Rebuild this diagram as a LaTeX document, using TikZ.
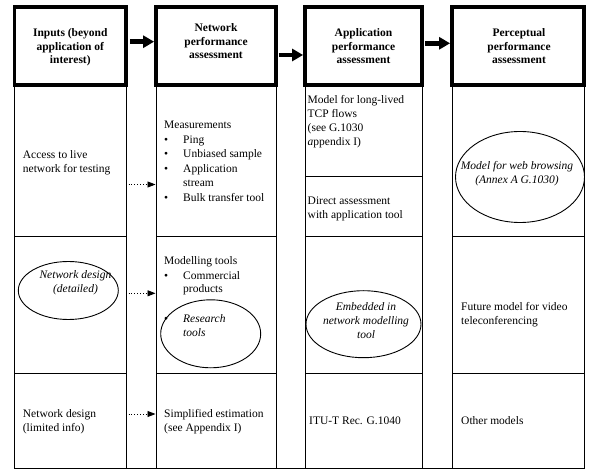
\documentclass[tikz,border=0pt]{standalone}
\usepackage{fontspec}
\setmainfont{Liberation Serif}
\usetikzlibrary{arrows.meta,shapes.geometric,fit}
\newcommand\mybul{\makebox[19pt][l]{\textbullet}}
\newcommand\myind{\hspace*{19pt}}
\begin{document}
\begin{tikzpicture}[x=1pt,y=-1pt,
  hdr/.style={draw, line width=3.8pt, inner sep=0pt},
  cell/.style={draw, line width=1pt, inner sep=0pt},
  oval/.style={draw, ellipse, line width=0.9pt, inner sep=0pt},
  txt/.style={anchor=base west, align=left, inner sep=0pt, font=\fontsize{11.5}{14}\selectfont},
  itxt/.style={anchor=base, align=center, inner sep=0pt, font=\fontsize{11.5}{14}\selectfont\itshape},
  htxt/.style={anchor=base, align=center, inner sep=0pt, font=\fontsize{11.5}{13.5}\selectfont\bfseries},
  bigarrow/.style={line width=4.5pt, -{Triangle[length=11pt,width=12pt]}},
  dotarrow/.style={line width=0.9pt, dotted, -{Triangle[length=8pt,width=6pt]}},
]
\useasboundingbox (0,0) rectangle (589,470);

% body cells
\node[cell, fit={(14.5,85.3) (126,237)}] (c1a) {};
\node[cell, fit={(14.5,237) (126,373)}] (c1b) {};
\node[cell, fit={(14.5,373) (126,468)}] (c1c) {};
\node[cell, fit={(156,85.3) (276,237)}] (c2a) {};
\node[cell, fit={(156,237) (276,373)}] (c2b) {};
\node[cell, fit={(156,373) (276,468)}] (c2c) {};
\node[cell, fit={(305,85.3) (422,177)}] (c3a) {};
\node[cell, fit={(305,177) (422,237)}] (c3d) {};
\node[cell, fit={(305,237) (422,373)}] (c3b) {};
\node[cell, fit={(305,373) (422,468)}] (c3c) {};
\node[cell, fit={(452,85.3) (584,237)}] (c4a) {};
\node[cell, fit={(452,237) (584,373)}] (c4b) {};
\node[cell, fit={(452,373) (584,468)}] (c4c) {};
\draw[line width=1.5pt] (c1c.south west) -- (c4c.south east);

% headers (text nodes anchored at the baseline of their last line)
\node[hdr, fit={(14.5,6.7) (126,85.3)}] (h1) {};
\node[hdr, fit={(156,6.7) (276,85.3)}] (h2) {};
\node[hdr, fit={(305,6.7) (422,85.3)}] (h3) {};
\node[hdr, fit={(452,6.7) (584,85.3)}] (h4) {};
\node[htxt] (t1) at (70.3,64) {Inputs (beyond\\application of\\interest)};
\node[htxt] (t2) at (216,59) {Network\\performance\\assessment};
\node[htxt] (t3) at (363.5,64) {Application\\performance\\assessment};
\node[htxt] (t4) at (519,64) {Perceptual\\performance\\assessment};

\draw[bigarrow, shorten <=2pt] (h1.east |- 0,41.7) -- (h2.west |- 0,41.7);
\draw[bigarrow, shorten <=1pt] (h2.east |- 0,55) -- (h3.west |- 0,55);
\draw[bigarrow, shorten <=1pt] (h3.east |- 0,43.3) -- (h4.west |- 0,43.3);

\draw[dotarrow, shorten <=2pt] (c1a.east |- 0,184.5) -- (c2a.west |- 0,184.5);
\draw[dotarrow, shorten <=2pt] (c1b.east |- 0,293.3) -- (c2b.west |- 0,293.3);
\draw[dotarrow, shorten <=2pt] (c1c.east |- 0,414) -- (c2c.west |- 0,414);

% row 1
\node[txt] (a1) at (22.7,173) {Access to live\\network for testing};
\node[txt, font=\fontsize{11.5}{14.6}\selectfont] (a2) at (164,201.5) {Measurements\\\mybul Ping\\\mybul Unbiased sample\\\mybul Application\\\myind stream\\\mybul Bulk transfer tool};
\node[txt] (a3) at (307.5,145.5) {Model for long-lived\\TCP flows\\(see G.1030\\\textit{a}ppendix I)};
\node[txt] (a4) at (307.5,219) {Direct assessment\\with application tool};
\node[oval, minimum width=129pt, minimum height=91pt] (e4) at (520,177) {};
\node[itxt] (a5) at (517,183.5) {Model for web browsing\\(Annex A G.1030)};

% row 2
\node[oval, minimum width=100pt, minimum height=58pt] (e1) at (68.3,290.5) {};
\node[itxt] (b1) at (75.5,293) {Network design\\(detailed)};
\node[txt] (b2) at (164,337) {Modelling tools\\\mybul Commercial\\\myind products\\[16pt]\mybul\textit{Research}\\\myind\textit{tools}};
\node[oval, minimum width=100pt, minimum height=68pt] (e2) at (210.7,333.8) {};
\node[oval, minimum width=115pt, minimum height=67pt] (e3) at (363.5,324.2) {};
\node[itxt] (b3) at (366,338) {Embedded in\\network modelling\\tool};
\node[txt] (b4) at (461,325) {Future model for video\\teleconferencing};

% row 3
\node[txt] (d1) at (22.7,431.5) {Network design\\(limited info)};
\node[txt] (d2) at (164,431.5) {Simplified estimation\\(see Appendix I)};
\node[txt] (d3) at (309,424.5) {ITU-T Rec. G.1040};
\node[txt] (d4) at (461,424.5) {Other models};
\end{tikzpicture}
\end{document}
